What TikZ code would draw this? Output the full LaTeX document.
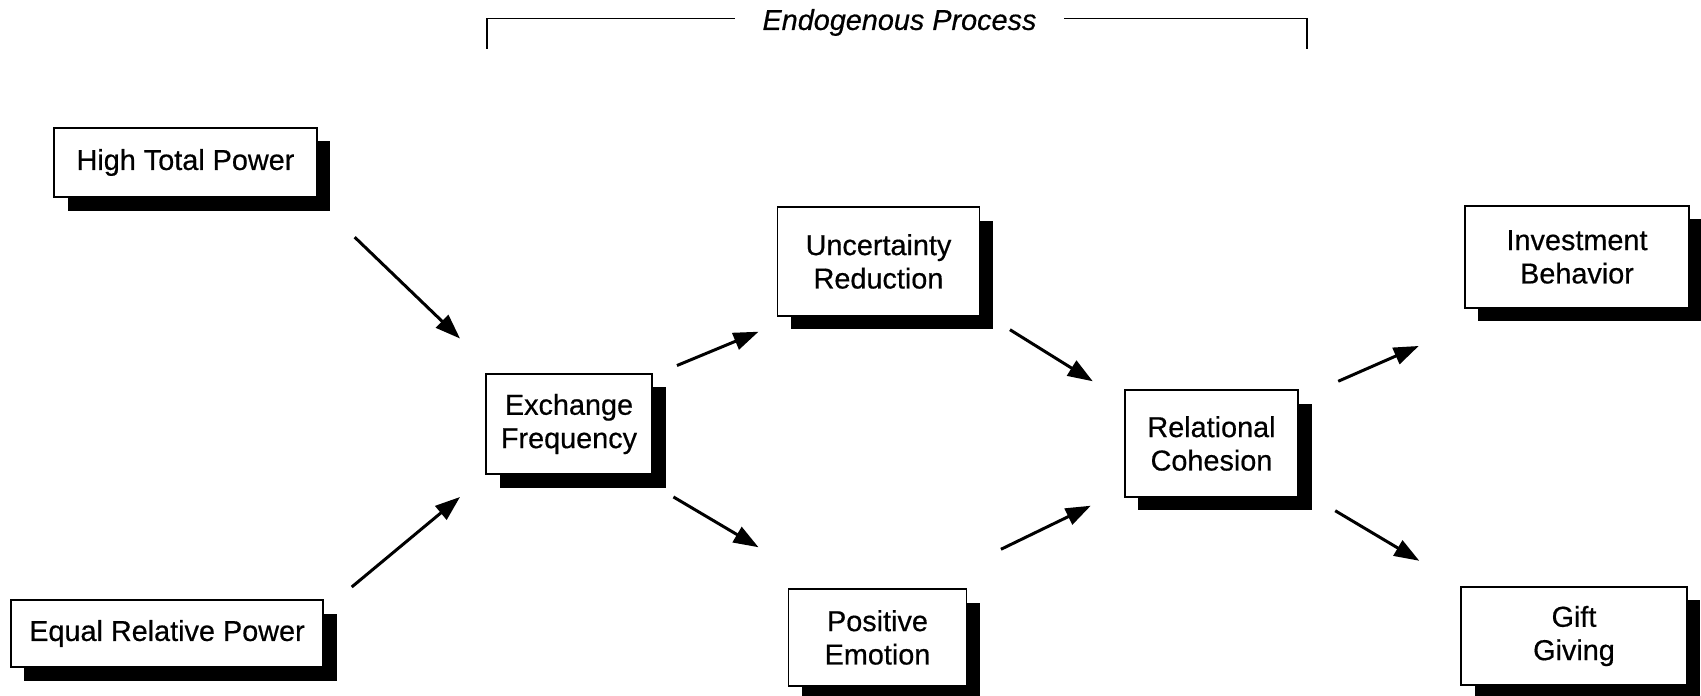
\documentclass[tikz,border=0pt]{standalone}
\usepackage{fontspec}
\setmainfont{Liberation Sans}[FakeBold=0.5]
\usetikzlibrary{arrows.meta,calc,shadows}

\tikzset{
    box/.style={draw, fill=white, line width=1.1pt, align=center, inner sep=0pt,
        drop shadow={shadow xshift=0.27cm, shadow yshift=-0.27cm, fill=black, opacity=1}},
    arr/.style={line width=1.7pt, -{Triangle[length=5mm,width=3.5mm]}}
}

\begin{document}
\begin{tikzpicture}[font=\fontsize{16.4}{19}\selectfont]
    \useasboundingbox (0,0) rectangle (34.02,-13.92);
    % bracket over the middle
    \node[inner xsep=0.55cm, font=\fontsize{16.4}{19}\selectfont\itshape] (endo) at (17.99,-0.45) {Endogenous Process};
    \draw[line width=0.9pt] ([yshift=0.08cm]endo.west) -| (9.74,-0.976);
    \draw[line width=0.9pt] ([yshift=0.08cm]endo.east) -| (26.14,-0.976);

    % boxes
    \node[box, minimum width=5.25cm, minimum height=1.39cm] (htp) at (3.71,-3.25) {High Total Power};
    \node[box, minimum width=6.25cm, minimum height=1.34cm] (erp) at (3.34,-12.67) {Equal Relative Power};
    \node[box, minimum width=3.32cm, minimum height=2cm] (exf) at (11.38,-8.48) {Exchange\\Frequency};
    \node[box, minimum width=4.04cm, minimum height=2.17cm] (unc) at (17.57,-5.23) {Uncertainty\\Reduction};
    \node[box, minimum width=3.56cm, minimum height=1.93cm] (pos) at (17.55,-12.75) {Positive\\Emotion};
    \node[box, minimum width=3.47cm, minimum height=2.13cm] (coh) at (24.23,-8.87) {Relational\\Cohesion};
    \node[box, minimum width=4.49cm, minimum height=2.04cm] (inv) at (31.54,-5.14) {Investment\\Behavior};
    \node[box, minimum width=4.51cm, minimum height=1.97cm] (gift) at (31.48,-12.72) {Gift\\Giving};

    % arrows
    \draw[arr] ($(htp.south east)+(0.74,-0.78)$) -- ($(exf.north west)+(-0.5,0.69)$);
    \draw[arr] ($(erp.north east)+(0.55,0.24)$) -- ($(exf.south west)+(-0.5,-0.44)$);
    \draw[arr] ($(exf.north east)+(0.48,0.15)$) -- ($(unc.south west)+(-0.36,-0.3)$);
    \draw[arr] ($(exf.south east)+(0.41,-0.44)$) -- ($(pos.north west)+(-0.58,0.82)$);
    \draw[arr] ($(unc.south east)+(0.59,-0.26)$) -- ($(coh.north west)+(-0.62,0.16)$);
    \draw[arr] ($(pos.north east)+(0.67,0.78)$) -- ($(coh.south west)+(-0.66,-0.16)$);
    \draw[arr] ($(coh.north east)+(0.78,0.16)$) -- ($(inv.south west)+(-0.9,-0.74)$);
    \draw[arr] ($(coh.south east)+(0.72,-0.26)$) -- ($(gift.north west)+(-0.82,0.5)$);
\end{tikzpicture}
\end{document}
